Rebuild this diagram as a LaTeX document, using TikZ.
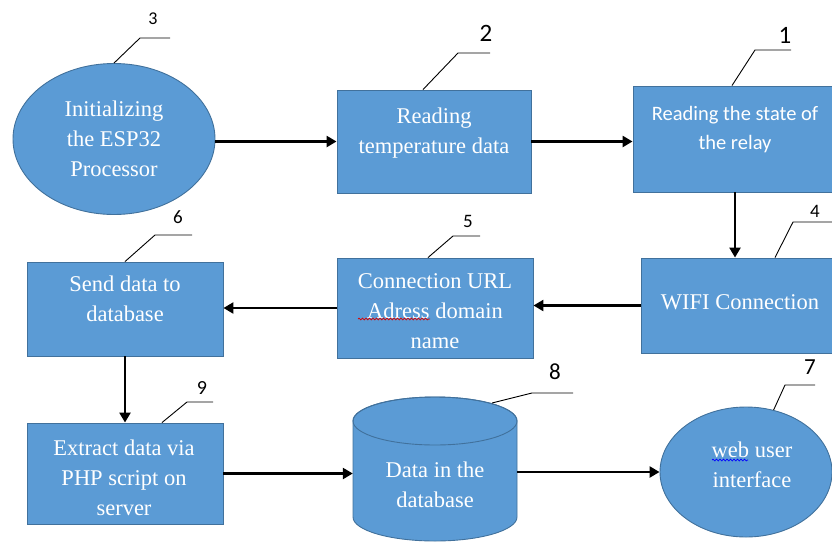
\documentclass[tikz,border=0pt]{standalone}
\usepackage{fontspec}
\setmainfont{Liberation Serif}
\newfontfamily\tms{Liberation Serif}
\newfontfamily\carl{Carlito}
\usetikzlibrary{shapes.geometric,arrows.meta,calc,decorations.pathmorphing}
\definecolor{boxfill}{HTML}{5B9BD5}
\definecolor{boxedge}{HTML}{41719C}
\tikzset{
  blk/.style={draw=boxedge,fill=boxfill,line width=0.9pt,inner sep=0pt},
  rbox/.style={blk,rectangle},
  ebox/.style={blk,ellipse},
  txt/.style={text=white,align=center,inner sep=0pt,font=\tms\fontsize{22.5}{30}\selectfont},
  stxt/.style={text=white,align=center,inner sep=0pt,font=\carl\fontsize{20.5}{29}\selectfont},
  num/.style={inner sep=0pt,font=\carl\fontsize{#1}{#1}\selectfont},
  flow/.style={line width=2.4pt,-{Triangle[length=10pt,width=11pt]}},
  leader/.style={line width=0.9pt},
  wavy/.style={line width=0.7pt,decorate,decoration={snake,segment length=3.5pt,amplitude=0.9pt}}
}
\begin{document}
\begin{tikzpicture}[x=1pt,y=-1pt]
\useasboundingbox (0,0) rectangle (832,544);
% shapes
\node[ebox,minimum width=202pt,minimum height=151pt] (e1) at (114,139) {};
\node[rbox,minimum width=194pt,minimum height=103pt] (b2) at (434,141.5) {};
\node[rbox,minimum width=204pt,minimum height=106pt] (b1) at (735,139) {};
\node[rbox,minimum width=198pt,minimum height=95pt] (b4) at (740,305.5) {};
\node[rbox,minimum width=196pt,minimum height=100pt] (b5) at (435,308) {};
\node[rbox,minimum width=196pt,minimum height=94pt] (b6) at (125,309) {};
\node[rbox,minimum width=196pt,minimum height=101pt] (b9) at (125,473.5) {};
% cylinder
\path[blk] (353,421) -- (353,517) arc[start angle=180,end angle=360,x radius=82pt,y radius=24pt]
  -- (517,421) arc[start angle=0,end angle=180,x radius=82pt,y radius=24pt] -- cycle;
\draw[boxedge,line width=0.9pt] (435,421) ellipse[x radius=82pt,y radius=24pt];
\node[minimum width=164pt,minimum height=120pt,inner sep=0pt] (db) at (435,469) {};
\node[ebox,minimum width=172pt,minimum height=130pt] (e7) at (746,472) {};
% texts
\node[txt] (t1) at (114,139) {Initializing\\the ESP32\\Processor};
\node[txt] (t2) at (434,133) {Reading\\temperature data};
\node[stxt] (t3) at (735,129.5) {Reading the state of\\the relay};
\node[txt] (t4) at (740,302) {WIFI Connection};
\node[txt] (t5) at (435,311.5) {Connection URL\\Adress domain\\name};
\node[txt] (t6) at (125,299) {Send data to\\database};
\node[txt] (t9) at (124,477.5) {Extract data via\\PHP script on\\server};
\node[txt] (t8) at (435,485) {Data in the\\database};
\node[txt] (t7) at (752,465) {web user\\interface};
\draw[wavy,red!85!black] (358,319) -- (430,319);
\draw[wavy,blue] (712,460) -- (748,460);
% flow arrows
\draw[flow] (e1.east |- b2.west) -- (b2.west);
\draw[flow] (b2.east) -- (b2.east -| b1.west);
\draw[flow] (b1.south) -- (b1.south |- b4.north);
\draw[flow] (b4.west) -- (b4.west -| b5.east);
\draw[flow] (b5.west) -- (b5.west -| b6.east);
\draw[flow] (b6.south) -- (b6.south |- b9.north);
\draw[flow] (b9.east) -- (b9.east -| db.west);
\draw[flow] (db.east |- e7.west) -- (e7.west);
% numbers and leaders
\node[num=25] (n1) at (785,35) {1};
\node[num=25] (n2) at (486,33.5) {2};
\node[num=18] (n3) at (153,18.5) {3};
\node[num=19] (n4) at (815,211) {4};
\node[num=19] (n5) at (468,221) {5};
\node[num=19] (n6) at (178,217) {6};
\node[num=23] (n7) at (810,367) {7};
\node[num=23] (n8) at (555,372) {8};
\node[num=20] (n9) at (202,388) {9};
\draw[leader] ($(b1.north)+(-3,0)$) -- (755,50) -- (791,50);
\draw[leader] ($(b2.north)+(-11,0)$) -- (458,53) -- (490,53);
\draw[leader] (e1.north) -- (140,38) -- (170,38);
\draw[leader] ($(b4.north)+(35,0)$) -- (793,222) -- (832,222);
\draw[leader] ($(b5.north)+(-7,0)$) -- (453,236) -- (480,236);
\draw[leader] (b6.north) -- (155,235) -- (192,235);
\draw[leader] (e7.66) -- (785,385) -- (815,385);
\draw[leader] (492,403) -- (532,393) -- (573,393);
\draw[leader] ($(b9.north)+(37,0)$) -- (187,402) -- (213,402);
\end{tikzpicture}
\end{document}
